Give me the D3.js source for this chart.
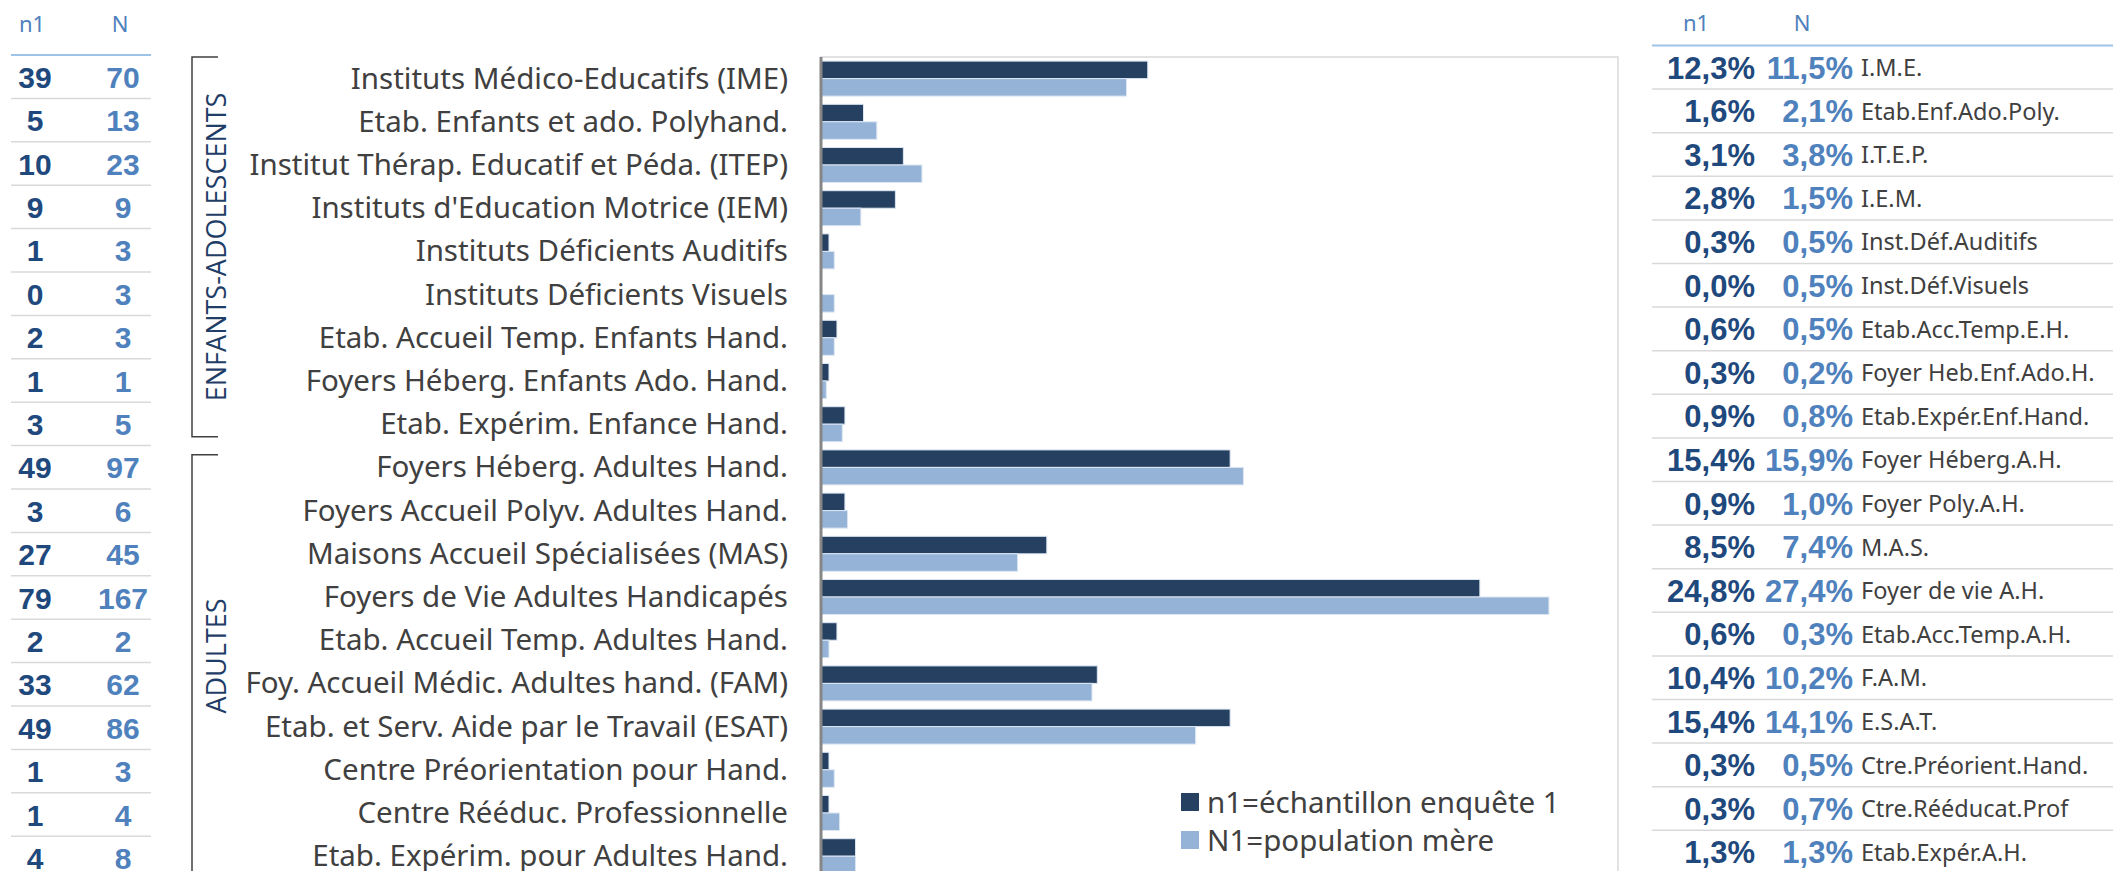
<!DOCTYPE html>
<html>
<head>
<meta charset="utf-8">
<script src="https://cdn.jsdelivr.net/npm/d3@7"></script>
<style>
  body { margin: 0; background: #fff; }
  svg { display: block; }
  .lbl { font-family: "Noto Sans", sans-serif; fill: #404040; }
  .num { font-family: "Liberation Sans", Arial, sans-serif; font-weight: bold; }
  .narrow { font-family: "Liberation Sans Narrow", "Arial Narrow", "Liberation Sans", sans-serif; font-weight: bold; }
</style>
</head>
<body>
<div id="viz"></div>
<script>
// categories (long names for the chart, short names for the right table)
categories = [
  'Instituts Médico-Educatifs (IME)',
  'Etab. Enfants et ado. Polyhand.',
  'Institut Thérap. Educatif et Péda. (ITEP)',
  "Instituts d'Education Motrice (IEM)",
  'Instituts Déficients Auditifs',
  'Instituts Déficients Visuels',
  'Etab. Accueil Temp. Enfants Hand.',
  'Foyers Héberg. Enfants Ado. Hand.',
  'Etab. Expérim. Enfance Hand.',
  'Foyers Héberg. Adultes Hand.',
  'Foyers Accueil Polyv. Adultes Hand.',
  'Maisons Accueil Spécialisées (MAS)',
  'Foyers de Vie Adultes Handicapés',
  'Etab. Accueil Temp. Adultes Hand.',
  'Foy. Accueil Médic. Adultes hand. (FAM)',
  'Etab. et Serv. Aide par le Travail (ESAT)',
  'Centre Préorientation pour Hand.',
  'Centre Rééduc. Professionnelle',
  'Etab. Expérim. pour Adultes Hand.'
];
shortNames = [
  'I.M.E.', 'Etab.Enf.Ado.Poly.', 'I.T.E.P.', 'I.E.M.', 'Inst.Déf.Auditifs',
  'Inst.Déf.Visuels', 'Etab.Acc.Temp.E.H.', 'Foyer Heb.Enf.Ado.H.', 'Etab.Expér.Enf.Hand.',
  'Foyer Héberg.A.H.', 'Foyer Poly.A.H.', 'M.A.S.', 'Foyer de vie A.H.',
  'Etab.Acc.Temp.A.H.', 'F.A.M.', 'E.S.A.T.', 'Ctre.Préorient.Hand.',
  'Ctre.Rééducat.Prof', 'Etab.Expér.A.H.'
];
// counts
countN1 = [39, 5, 10, 9, 1, 0, 2, 1, 3, 49, 3, 27, 79, 2, 33, 49, 1, 1, 4];
countN  = [70, 13, 23, 9, 3, 3, 3, 1, 5, 97, 6, 45, 167, 2, 62, 86, 3, 4, 8];
// shares in %
pctN1 = [12.3, 1.6, 3.1, 2.8, 0.3, 0.0, 0.6, 0.3, 0.9, 15.4, 0.9, 8.5, 24.8, 0.6, 10.4, 15.4, 0.3, 0.3, 1.3];
pctN  = [11.5, 2.1, 3.8, 1.5, 0.5, 0.5, 0.5, 0.2, 0.8, 15.9, 1.0, 7.4, 27.4, 0.3, 10.2, 14.1, 0.5, 0.7, 1.3];
// groups (first index, last index)
groups = [
  {name: 'ENFANTS-ADOLESCENTS', from: 0, to: 8},
  {name: 'ADULTES', from: 9, to: 18}
];
series = ['n1=échantillon enquête 1', 'N1=population mère'];
colors = ['#264061', '#95b3d7'];
numColors = ['#1f497d', '#4f81bd'];

width = 2113;
height = 871;
step = 43.2;
top0 = 57;

svg = d3.select('#viz').append('svg')
  .attr('width', width)
  .attr('height', height);

// scales
x = d3.scaleLinear().domain([0, 30]).range([821, 1618]);
y = d3.scaleBand()
  .domain(d3.range(categories.length))
  .range([top0, top0 + step * categories.length])
  .paddingInner(0.19)
  .paddingOuter(0.095);
ySub = d3.scaleBand().domain([0, 1]).range([0, y.bandwidth()]);

// plot frame
svg.append('rect')
  .attr('x', x(0)).attr('y', top0)
  .attr('width', x(30) - x(0)).attr('height', height)
  .attr('fill', 'none').attr('stroke', '#d9d9d9').attr('stroke-width', 1.5);

// bars
rows = svg.selectAll('g.row')
  .data(categories.map((c, i) => [pctN1[i], pctN[i]]))
  .enter().append('g')
  .attr('class', 'row')
  .attr('transform', (d, i) => 'translate(0,' + y(i) + ')');

rows.selectAll('rect')
  .data(d => d)
  .enter().append('rect')
  .attr('x', x(0))
  .attr('y', (d, j) => ySub(j))
  .attr('width', d => x(d) - x(0))
  .attr('height', ySub.bandwidth())
  .attr('fill', (d, j) => colors[j])
  .attr('stroke', d => d > 0 ? '#dce6f2' : 'none')
  .attr('stroke-width', 1);

// vertical axis line
svg.append('line')
  .attr('x1', x(0)).attr('x2', x(0))
  .attr('y1', top0).attr('y2', height)
  .attr('stroke', '#868686').attr('stroke-width', 3);

// category labels
svg.selectAll('text.cat')
  .data(categories)
  .enter().append('text')
  .attr('class', 'lbl cat')
  .attr('x', 788)
  .attr('y', (d, i) => y(i) + y.bandwidth() / 2)
  .attr('dy', '0.34em')
  .attr('text-anchor', 'end')
  .style('font-size', '29.5px')
  .text(d => d);

// group brackets (the last one runs off the bottom edge)
groups.forEach(function(g, k) {
  var y1 = top0 + g.from * step + (g.from > 0 ? 9 : 0);
  var y2 = top0 + (g.to + 1) * step - 9;
  var d = k == groups.length - 1
    ? 'M218,' + y1 + 'H192V' + (height + 5)
    : 'M218,' + y1 + 'H192V' + y2 + 'H218';
  svg.append('path')
    .attr('d', d)
    .attr('fill', 'none').attr('stroke', '#404040').attr('stroke-width', 1.5);
  var cy = k == groups.length - 1 ? 656 : (y1 + y2) / 2;
  svg.append('text')
    .attr('transform', 'translate(226,' + cy + ') rotate(-90)')
    .attr('text-anchor', 'middle')
    .style('font-family', '"Open Sans", sans-serif')
    .style('font-size', '27px')
    .attr('fill', '#1f3d66')
    .text(g.name);
});

// left table (counts)
leftCols = [35, 123];
lStep = 43.4;
svg.selectAll('text.lh')
  .data(['n1', 'N'])
  .enter().append('text')
  .attr('class', 'lbl lh')
  .attr('x', (d, i) => leftCols[i] - 3)
  .attr('y', 32)
  .attr('text-anchor', 'middle')
  .style('font-size', '22px')
  .style('fill', '#4f81bd')
  .text(d => d);

svg.append('line')
  .attr('x1', 11).attr('x2', 151).attr('y1', 55).attr('y2', 55)
  .attr('stroke', '#9dc3e6').attr('stroke-width', 2);

svg.selectAll('line.lsep')
  .data(d3.range(1, categories.length))
  .enter().append('line')
  .attr('class', 'lsep')
  .attr('x1', 11).attr('x2', 151)
  .attr('y1', d => 55 + d * lStep).attr('y2', d => 55 + d * lStep)
  .attr('stroke', '#d9d9d9').attr('stroke-width', 1.5);

[countN1, countN].forEach(function(vals, j) {
  svg.selectAll('text.lv' + j)
    .data(vals)
    .enter().append('text')
    .attr('class', 'narrow lv' + j)
    .attr('x', leftCols[j])
    .attr('y', (d, i) => 77 + i * lStep)
    .attr('dy', '0.36em')
    .attr('text-anchor', 'middle')
    .style('font-size', '30px')
    .attr('fill', numColors[j])
    .text(d => d);
});

// right table (shares)
fmt = d => d.toFixed(1).replace('.', ',') + '%';
rightCols = [1755, 1853];
rTop = 45.5;
rStep = 43.6;
svg.selectAll('text.rh')
  .data(['n1', 'N'])
  .enter().append('text')
  .attr('class', 'lbl rh')
  .attr('x', (d, i) => [1696, 1802][i])
  .attr('y', 31)
  .attr('text-anchor', 'middle')
  .style('font-size', '22px')
  .style('fill', '#4f81bd')
  .text(d => d);

svg.append('line')
  .attr('x1', 1652).attr('x2', width).attr('y1', rTop).attr('y2', rTop)
  .attr('stroke', '#9dc3e6').attr('stroke-width', 2);

svg.selectAll('line.rsep')
  .data(d3.range(1, categories.length))
  .enter().append('line')
  .attr('class', 'rsep')
  .attr('x1', 1652).attr('x2', width)
  .attr('y1', d => rTop + d * rStep).attr('y2', d => rTop + d * rStep)
  .attr('stroke', '#d9d9d9').attr('stroke-width', 1.5);

[pctN1, pctN].forEach(function(vals, j) {
  svg.selectAll('text.rv' + j)
    .data(vals)
    .enter().append('text')
    .attr('class', 'num rv' + j)
    .attr('x', rightCols[j])
    .attr('y', (d, i) => rTop + 22 + i * rStep)
    .attr('dy', '0.36em')
    .attr('text-anchor', 'end')
    .style('font-size', '31px')
    .attr('fill', numColors[j])
    .text(d => fmt(d));
});

svg.selectAll('text.rn')
  .data(shortNames)
  .enter().append('text')
  .attr('class', 'lbl rn')
  .attr('x', 1861)
  .attr('y', (d, i) => rTop + 22 + i * rStep)
  .attr('dy', '0.36em')
  .style('font-size', '23.5px')
  .text(d => d);

// legend
legend = svg.selectAll('g.legend')
  .data(series)
  .enter().append('g')
  .attr('class', 'legend')
  .attr('transform', (d, i) => 'translate(1181,' + (802 + i * 38) + ')');

legend.append('rect')
  .attr('x', 0).attr('y', -9)
  .attr('width', 18).attr('height', 18)
  .attr('fill', (d, i) => colors[i]);

legend.append('text')
  .attr('class', 'lbl')
  .attr('x', 26)
  .attr('dy', '0.36em')
  .style('font-size', '29.5px')
  .text(d => d);
</script>
</body>
</html>
